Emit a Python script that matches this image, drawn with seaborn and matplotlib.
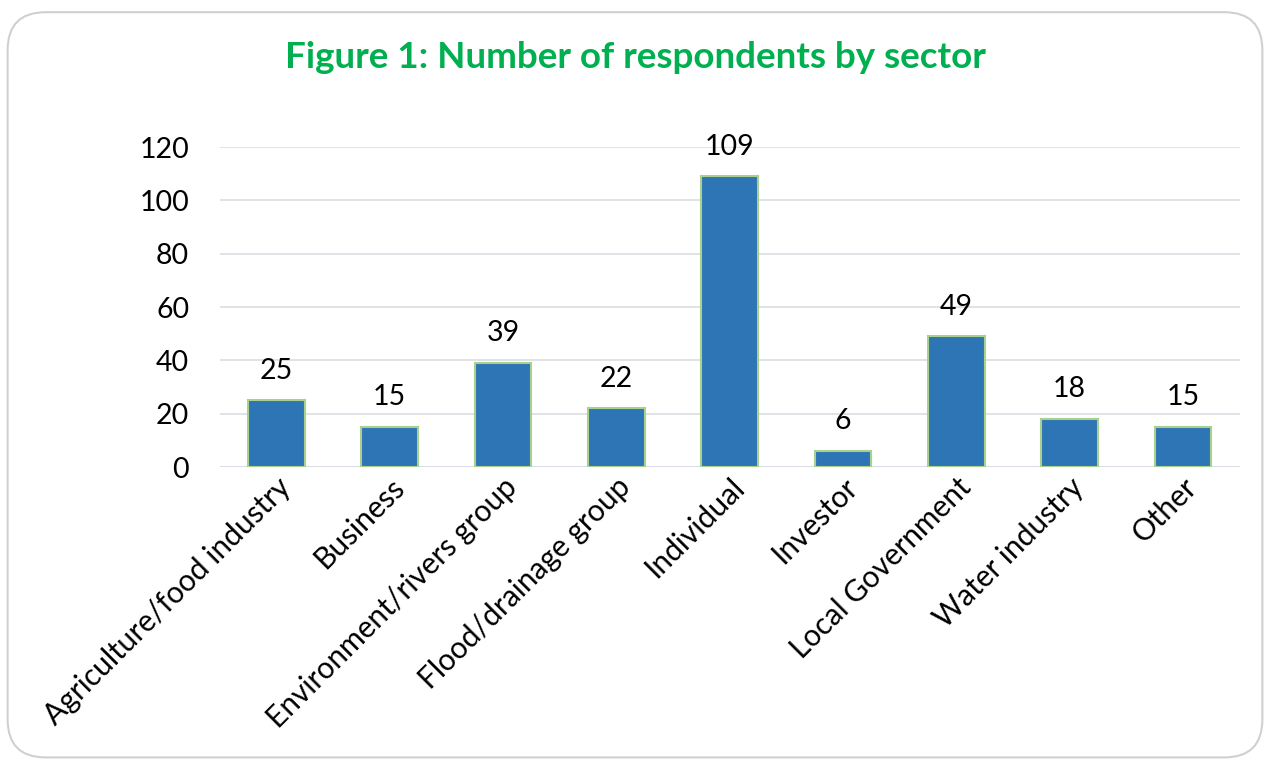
import matplotlib
matplotlib.use('Agg')
import matplotlib.pyplot as plt
import seaborn as sns
import pandas as pd
from matplotlib.patches import FancyBboxPatch

# data
sectors = ['Agriculture/food industry', 'Business', 'Environment/rivers group',
           'Flood/drainage group', 'Individual', 'Investor', 'Local Government',
           'Water industry', 'Other']
respondents = [25, 15, 39, 22, 109, 6, 49, 18, 15]
y_ticks = [0, 20, 40, 60, 80, 100, 120]

df = pd.DataFrame({'Sector': sectors, 'Respondents': respondents})

sns.set_theme(style='white')
plt.rcParams['font.family'] = ['Lato', 'DejaVu Sans']

fig = plt.figure(figsize=(12.7, 7.62), dpi=100)
ax = fig.add_axes([0.173, 0.387, 0.803, 0.42])

sns.barplot(data=df, x='Sector', y='Respondents', color='#2E75B6', saturation=1,
            width=0.5, edgecolor='#A9D18E', linewidth=1.5, ax=ax, zorder=3)

#Data labels
for p, v in zip(ax.patches, respondents):
    ax.annotate(str(v), (p.get_x() + p.get_width() / 2, p.get_height()),
                xytext=(0, 12), textcoords='offset points', ha='center', va='bottom',
                fontsize=20.5, color='black')

ax.set_ylim(0, 120)
ax.set_yticks(y_ticks)
ax.set_xlim(-0.5, len(sectors) - 0.5)
ax.yaxis.grid(True, color='#D9DDE3', linewidth=1.2, zorder=0)
for s in ax.spines.values():
    s.set_visible(False)
ax.axhline(0, color='#D9DDE3', linewidth=1.2, zorder=1)
ax.tick_params(axis='y', length=0, labelsize=20.5, colors='black', pad=22)
ax.tick_params(axis='x', length=0, labelsize=21.5, colors='black', pad=4)
ax.set_xticks(range(len(sectors)))
ax.set_xticklabels(sectors, rotation=45, ha='right', rotation_mode='anchor')
ax.set_xlabel('')
ax.set_ylabel('')

fig.text(0.5, 0.925, 'Figure 1: Number of respondents by sector', ha='center', va='center',
         fontsize=26.5, fontweight='bold', color='#00B050')

#Rounded chart border
border = FancyBboxPatch((0.006, 0.006), 0.988, 0.978, boxstyle='round,pad=0,rounding_size=0.03',
                        transform=fig.transFigure, facecolor='none', edgecolor='#D0D0D0',
                        linewidth=1.5, mutation_aspect=12.7 / 7.62)
fig.patches.append(border)

fig.savefig('out.png', dpi=100, facecolor='white')
